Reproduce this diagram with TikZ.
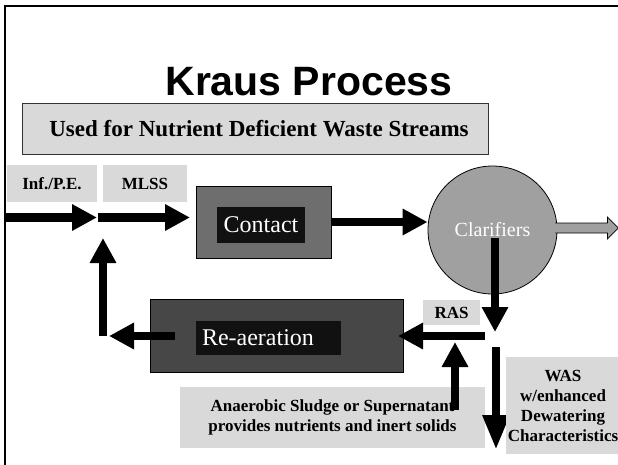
\documentclass[tikz,border=0pt]{standalone}
\usepackage{fontspec}
\setmainfont{Liberation Serif}
\newfontfamily\arialf{Liberation Sans}
\usetikzlibrary{arrows.meta,shapes.geometric,calc}
\definecolor{lbox}{RGB}{217,217,217}
\definecolor{contactfill}{RGB}{110,110,110}
\definecolor{reaerfill}{RGB}{71,71,71}
\definecolor{innerfill}{RGB}{17,17,17}
\definecolor{clarfill}{RGB}{160,160,160}
\begin{document}
\begin{tikzpicture}[x=1pt,y=-1pt,
  lbl/.style={fill=lbox, inner sep=0pt, font=\bfseries\fontsize{17}{20}\selectfont, align=center},
  fat/.style={line width=8.5pt, -{Triangle[length=25pt,width=25pt]}},
  procbox/.style={draw=black, line width=0.8pt, inner sep=0pt},
  innerbox/.style={fill=innerfill, inner sep=0pt, text=white, font=\fontsize{24}{24}\selectfont}
]
\useasboundingbox (0,0) rectangle (618,464);
% frame
\draw[line width=1.5pt] (5,466) -- (5,6) -- (620,6);
% title
\node[font=\arialf\bfseries\fontsize{41}{41}\selectfont, anchor=base] (title) at (309,95) {Kraus Process};
\node[lbl, draw=black!80, line width=0.8pt, minimum width=466pt, minimum height=51pt,
      font=\bfseries\fontsize{23}{23}\selectfont] (sub) at (255,128.5) {\hspace*{8pt}Used for Nutrient Deficient Waste Streams};
% labels
\node[lbl, minimum width=90pt, minimum height=37pt] (inf) at (52,183.5) {Inf./P.E.};
\node[lbl, minimum width=84pt, minimum height=37pt] (mlss) at (145,183.5) {MLSS};
% contact
\node[procbox, fill=contactfill, minimum width=135pt, minimum height=72pt] (contact) at (263.5,222) {};
\node[innerbox, minimum width=88pt, minimum height=36pt] (contactin) at (261,225) {Contact};
% clarifier
\node[ellipse, draw=black, line width=0.8pt, fill=clarfill, minimum width=129pt, minimum height=128pt,
      inner sep=0pt, text=white, font=\fontsize{20}{20}\selectfont] (clar) at (492.5,230) {\raisebox{1pt}{Clarifiers}};
% coordinates
\coordinate (in0) at (5,217.5);
\coordinate (j1) at (97,217.5);
\coordinate (j2) at (98,217.5);
\coordinate (j3) at (190,217.5);
\coordinate (c1) at (495,238);
\coordinate (c2) at (495,332);
\coordinate (r1) at (485,336);
\coordinate (r2) at (398,336);
\coordinate (l1) at (175,336);
\coordinate (l2) at (109,336);
\coordinate (u1) at (103,336);
\coordinate (u2) at (103,238);
\coordinate (a1) at (455,410);
\coordinate (a2) at (455,342);
\coordinate (w1) at (496,347);
\coordinate (w2) at (496,450);
% main arrows
\draw[fat] (in0) -- (j1);
\draw[fat] (j2) -- (j3);
\draw[fat] (contact.east) -- (contact.east -| clar.west);
% outflow
\draw[fill=clarfill, line width=0.7pt] ($(clar.east)+(-2,-7)$) -- ($(clar.east)+(50,-7)$) -- ($(clar.east)+(50,-13)$)
   -- ($(clar.east)+(61,-2)$) -- ($(clar.east)+(50,9)$) -- ($(clar.east)+(50,3)$) -- ($(clar.east)+(-2,3)$);
\draw[fat] (c1) -- (c2);
% re-aeration
\node[procbox, fill=reaerfill, minimum width=253pt, minimum height=73pt] (reaer) at (276.5,335.5) {};
\node[innerbox, minimum height=34pt, text width=133pt, inner xsep=6pt, align=left] (reaerin) at (268.5,338) {Re-aeration};
% RAS
\node[lbl, minimum width=57pt, minimum height=25pt] (ras) at (451.5,312.5) {RAS};
\draw[fat] (r1) -- (r2);
\draw[fat] (l1) -- (l2);
\draw[fat] (u1) -- (u2);
% anaerobic
\node[lbl, minimum width=305pt, minimum height=61pt] (anaer) at (332.5,417.5) {Anaerobic Sludge or Supernatant\\provides nutrients and inert solids};
\draw[fat] (a1) -- (a2);
% WAS
\draw[line width=8.5pt, -{Triangle[length=35pt,width=25pt]}] (w1) -- (w2);
\node[lbl, minimum width=114pt, minimum height=97pt] (was) at (563,405.5) {WAS\\w/enhanced\\Dewatering\\Characteristics};
\end{tikzpicture}
\end{document}
